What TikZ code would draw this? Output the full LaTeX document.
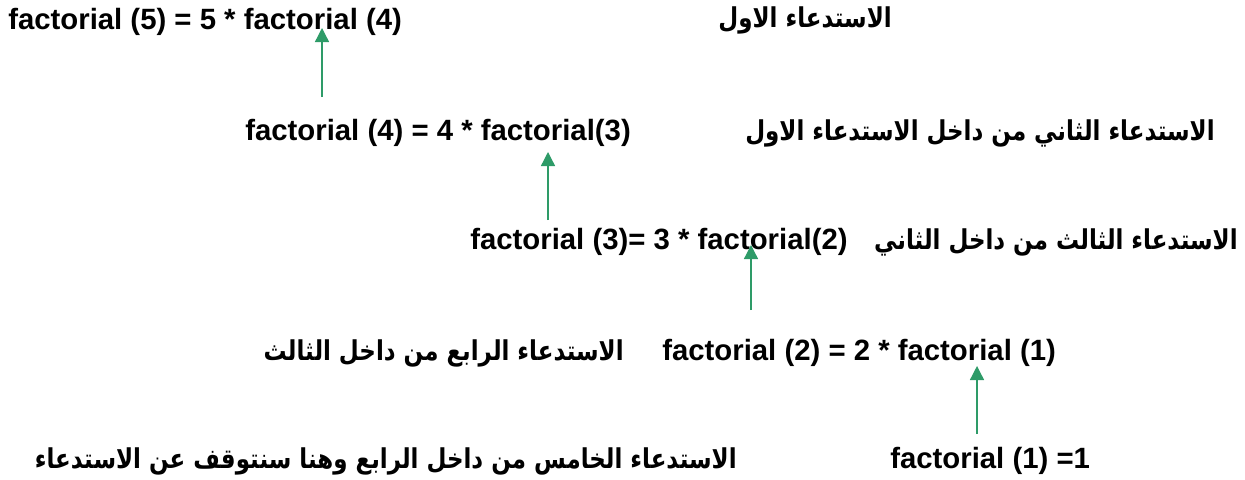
\documentclass[tikz,border=0pt]{standalone}
\usepackage{fontspec}
\setmainfont{Liberation Sans}
\newfontfamily\arabicfont[Script=Arabic,FakeStretch=0.84]{DejaVu Sans}
\TeXXeTstate=1
\usetikzlibrary{arrows.meta}
\definecolor{callgreen}{HTML}{2E9B68}

\tikzset{
  calltext/.style={font=\fontsize{22}{26}\selectfont\bfseries,inner sep=0pt,anchor=west},
  callnote/.style={font=\fontsize{20.5}{24}\selectfont\arabicfont\bfseries,inner sep=0pt,anchor=east},
  callarrow/.style={callgreen,line width=1pt,-{Triangle[width=10.5pt,length=10.5pt]}}
}

\begin{document}
\begin{tikzpicture}[x=0.75pt,y=-0.75pt]
\useasboundingbox (0,0) rectangle (1245,479);
% recursive calls, one per line
\node[calltext] (f5) at (8,22) {factorial (5) = 5 * factorial (4)};
\node[callnote] (n1) at (892,20) {\beginR الاستدعاء الاول\endR};
\node[calltext] (f4) at (245,133) {factorial (4) = 4 * factorial(3)};
\node[callnote] (n2) at (1215,133) {\beginR الاستدعاء الثاني من داخل الاستدعاء الاول\endR};
\node[calltext] (f3) at (470,242) {factorial (3)= 3 * factorial(2)};
\node[callnote] (n3) at (1238,242) {\beginR الاستدعاء الثالث من داخل الثاني\endR};
\node[callnote] (n4) at (624,353) {\beginR الاستدعاء الرابع من داخل الثالث\endR};
\node[calltext] (f2) at (662,353) {factorial (2) = 2 * factorial (1)};
\node[callnote] (n5) at (737,461) {\beginR الاستدعاء الخامس من داخل الرابع وهنا سنتوقف عن الاستدعاء\endR};
\node[calltext] (f1) at (890,461) {factorial (1) =1};
% return arrows
\foreach \n/\x/\a/\b in {1/322/97/28,2/548/220/152,3/751/310/245,4/977/434/366}{
  \coordinate (t\n) at (\x,\a);
  \coordinate (h\n) at (\x,\b);
  \draw[callarrow] (t\n) -- (h\n);
}
\end{tikzpicture}
\end{document}
